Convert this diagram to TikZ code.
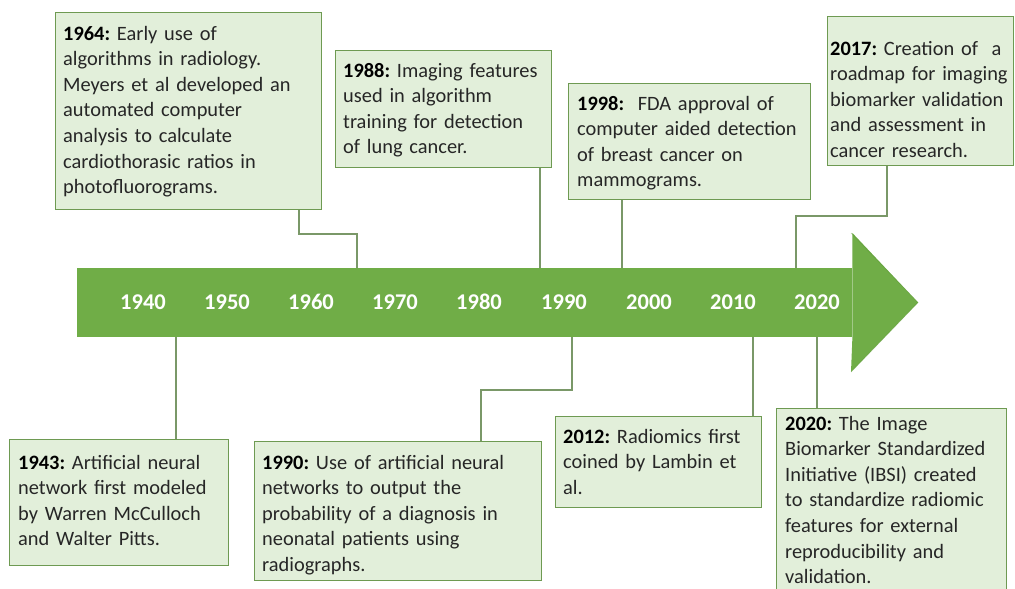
\documentclass[tikz,border=0pt]{standalone}
\usepackage{fontspec}
\setmainfont{Carlito}
\frenchspacing
\definecolor{boxfill}{HTML}{E2EFDA}
\definecolor{boxline}{HTML}{6E9A52}
\definecolor{connline}{HTML}{7A9868}
\definecolor{arrowgreen}{HTML}{70AD47}
\definecolor{arrowdark}{HTML}{5E9A38}
\definecolor{txtgrey}{HTML}{262626}
\tikzset{
  evbox/.style={draw=boxline, fill=boxfill, line width=1.3pt, inner sep=0pt, anchor=north west},
  evtxt/.style={anchor=base west, inner sep=0pt, align=left, text=txtgrey,
    font=\fontsize{20.4}{25.6}\selectfont\frenchspacing},
  conn/.style={draw=connline, line width=1.3pt},
  yearlbl/.style={anchor=base, inner sep=0pt, text=white, font=\fontsize{22.5}{24}\selectfont\bfseries},
}
\newcommand\yr[1]{\textbf{\color{black}#1}}
\begin{document}
\begin{tikzpicture}[x=1pt,y=-1pt]
\useasboundingbox (0,0) rectangle (1015,589);
\clip (0,0) rectangle (1015,589);
\fill[white] (0,0) rectangle (1015,589);

% arrow
\node[fill=arrowgreen, inner sep=0pt, anchor=north west, minimum width=775pt, minimum height=69pt] (axis) at (77,268) {};
\fill[arrowgreen] (axis.north east) -- ++(0,-35) -- (918,302.5) -- (851,372) -- (axis.south east) -- cycle;
\draw[arrowdark, line width=0.6pt, opacity=0.5] (851,233) -- (918,302.5) -- (851,372);

% year labels
\foreach \yy/\xx in {1940/143,1950/227,1960/311,1970/395,1980/479,1990/564,2000/649,2010/733,2020/817}
  \node[yearlbl] (y\yy) at (\xx,309.5) {\yy};

% boxes
\node[evbox, minimum width=266pt, minimum height=197pt] (b1964) at (55,12) {};
\node[evtxt, text width=266pt] (t1964) at ([shift={(8,28)}]b1964.north west)
  {\yr{1964:} Early use of\\algorithms in radiology.\\Meyers et al developed an\\automated computer\\analysis to calculate\\cardiothorasic ratios in\\photofluorograms.};

\node[evbox, minimum width=216pt, minimum height=117pt] (b1988) at (335,50) {};
\node[evtxt, text width=216pt] (t1988) at ([shift={(8,27)}]b1988.north west)
  {\yr{1988:} Imaging features\\used in algorithm\\training for detection\\of lung cancer.};

\node[evbox, minimum width=242pt, minimum height=116pt] (b1998) at (568,83) {};
\node[evtxt, text width=242pt] (t1998) at ([shift={(9,27)}]b1998.north west)
  {\yr{1998:}\ \ FDA approval of\\computer aided detection\\of breast cancer on\\mammograms.};

\node[evbox, minimum width=186pt, minimum height=149pt] (b2017) at (827,16) {};
\node[evtxt, text width=190pt] (t2017) at ([shift={(3,39)}]b2017.north west)
  {\yr{2017:} Creation of\ \ a\\roadmap for imaging\\biomarker validation\\and assessment in\\cancer research.};

\node[evbox, minimum width=219pt, minimum height=126pt] (b1943) at (9,439) {};
\node[evtxt, text width=219pt] (t1943) at ([shift={(9,30)}]b1943.north west)
  {\yr{1943:} Artificial neural\\network first modeled\\by Warren McCulloch\\and Walter Pitts.};

\node[evbox, minimum width=287pt, minimum height=139pt] (b1990) at (254,441) {};
\node[evtxt, text width=287pt] (t1990) at ([shift={(8,28)}]b1990.north west)
  {\yr{1990:} Use of artificial neural\\networks to output the\\probability of a diagnosis in\\neonatal patients using\\radiographs.};

\node[evbox, minimum width=206pt, minimum height=91pt] (b2012) at (555,416) {};
\node[evtxt, text width=206pt] (t2012) at ([shift={(8,27)}]b2012.north west)
  {\yr{2012:} Radiomics first\\coined by Lambin et\\al.};

\node[evbox, minimum width=230pt, minimum height=200pt] (b2020) at (776,408) {};
\node[evtxt, text width=230pt] (t2020) at ([shift={(9,22)}]b2020.north west)
  {\yr{2020:} The Image\\Biomarker Standardized\\Initiative (IBSI) created\\to standardize radiomic\\features for external\\reproducibility and\\validation.};

% connector x positions
\coordinate (x1964a) at (299,0);
\coordinate (x1964b) at (357,0);
\coordinate (x1988) at (540,0);
\coordinate (x1998) at (622,0);
\coordinate (x2017a) at (887,0);
\coordinate (x2017b) at (796,0);
\coordinate (x1943) at (176,0);
\coordinate (x1990a) at (481,0);
\coordinate (x1990b) at (572,0);
\coordinate (x2012) at (753,0);
\coordinate (x2020) at (817,0);

\draw[conn] (x1964a |- b1964.south) |- (357,234) -- (x1964b |- axis.north);
\draw[conn] (x1988 |- b1988.south) -- (x1988 |- axis.north);
\draw[conn] (x1998 |- b1998.south) -- (x1998 |- axis.north);
\draw[conn] (x2017a |- b2017.south) |- (796,216) -- (x2017b |- axis.north);
\draw[conn] (x1943 |- axis.south) -- (x1943 |- b1943.north);
\draw[conn] (x1990a |- b1990.north) |- (572,390) -- (x1990b |- axis.south);
\draw[conn] (x2012 |- axis.south) -- (x2012 |- b2012.north);
\draw[conn] (x2020 |- axis.south) -- (x2020 |- b2020.north);
\end{tikzpicture}
\end{document}
